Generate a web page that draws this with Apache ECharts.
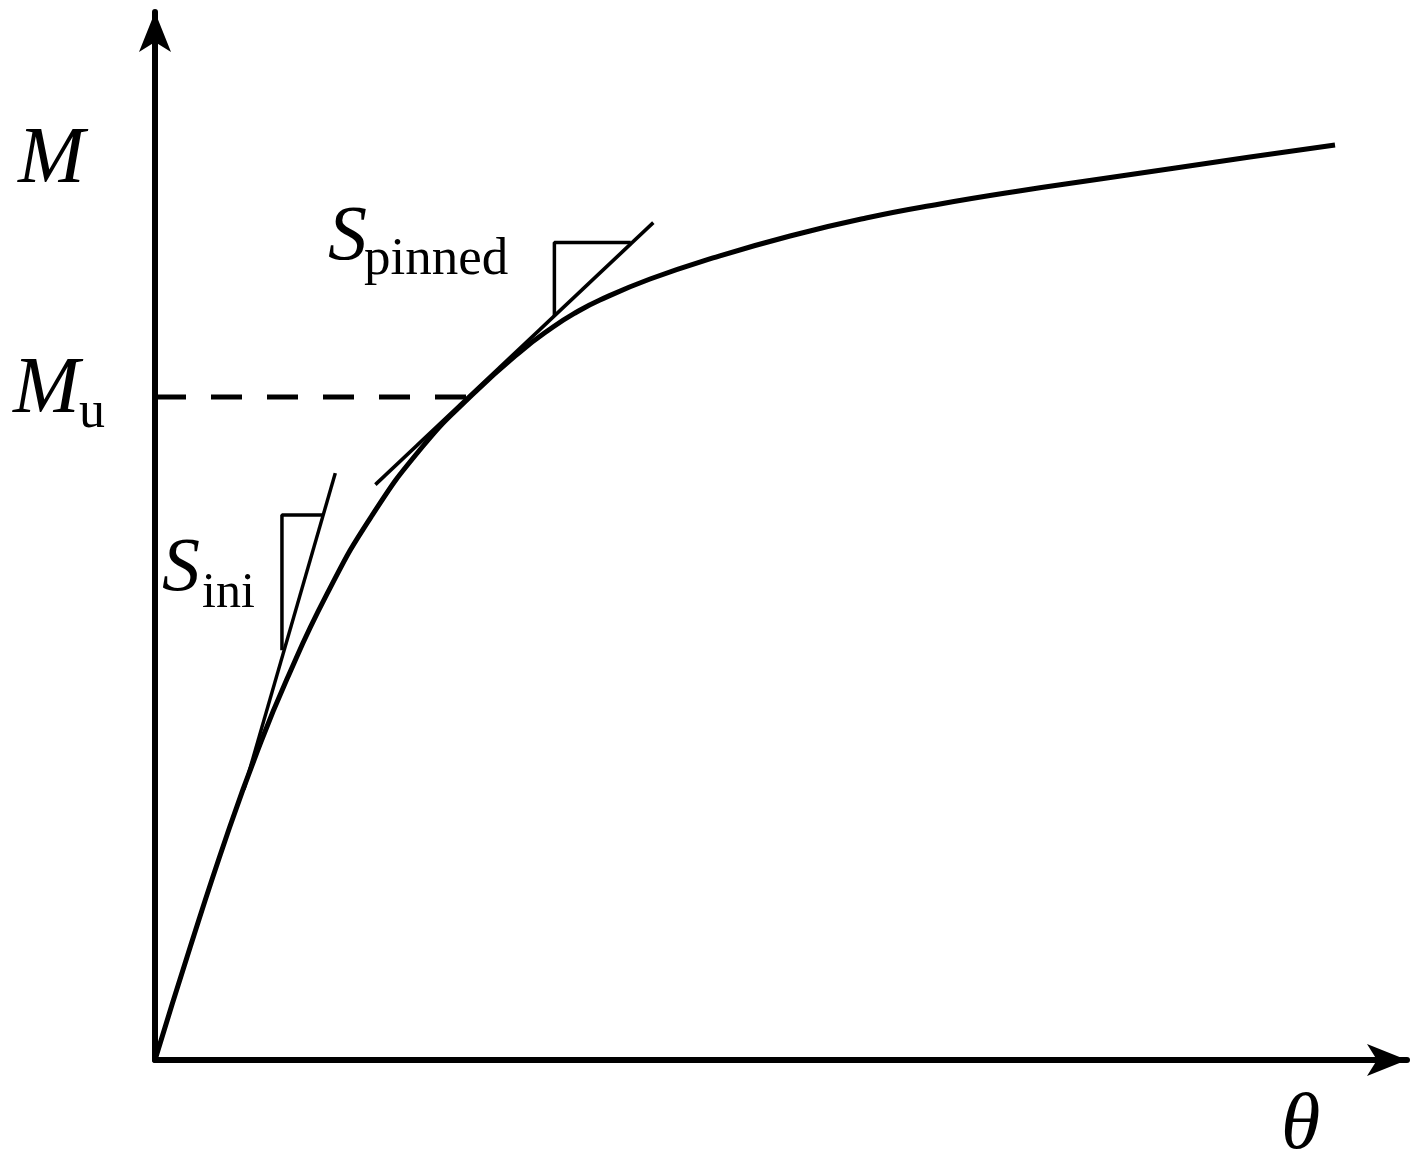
<!DOCTYPE html>
<html>
<head>
<meta charset="utf-8">
<title>M-θ curve</title>
<script src="https://cdn.jsdelivr.net/npm/echarts@6/dist/echarts.min.js"></script>
<style>
  html, body { margin: 0; padding: 0; background: #fff; }
  #chart { width: 1418px; height: 1168px; }
</style>
</head>
<body>
<div id="chart"></div>
<script>
// moment-rotation curve (both axes in 0..100 units)
const thetaCurve = [0, 2.8, 5.75, 8.15, 10.54, 13.74, 17.25, 21.41, 25.32, 29.15, 31.79, 33.55, 35.54, 39.54, 44.57, 50.72, 56.79, 62.7, 69.01, 75.48, 81.23, 87.46, 94.25];
const momentCurve = [0, 10.73, 21.47, 29.39, 36.35, 44.47, 51.81, 58.59, 63.45, 67.56, 69.94, 71.28, 72.52, 74.52, 76.53, 78.63, 80.34, 81.68, 82.92, 84.06, 85.07, 86.16, 87.31];

// M_u level and where it meets the curve
const momentU = 63.26;
const thetaU = 25.16;

// initial stiffness tangent and its slope triangle
const iniTangentTheta = [7.1, 14.4];
const iniTangentMoment = [25.8, 56.0];
const iniTriangleTheta = [10.14, 10.14, 13.42];
const iniTriangleMoment = [39.1, 52.0, 52.0];

// pinned stiffness tangent and its slope triangle
const pinTangentTheta = [17.6, 39.8];
const pinTangentMoment = [54.9, 79.9];
const pinTriangleTheta = [31.9, 31.9, 38.0];
const pinTriangleMoment = [71.0, 78.0, 78.0];

const zip = (xs, ys) => xs.map((x, i) => [x, ys[i]]);

const chart = echarts.init(document.getElementById('chart'));

const serif = '"Liberation Serif", "Times New Roman", serif';
const axisCommon = {
  type: 'value',
  min: 0,
  max: 100,
  axisLine: {
    show: true,
    symbol: ['none', 'arrow'],
    symbolSize: [24, 40],
    lineStyle: { color: '#000', width: 6 }
  },
  axisTick: { show: false },
  axisLabel: { show: false },
  splitLine: { show: false }
};

// thin black line helper
function thinLine(data, width) {
  return {
    type: 'line',
    data: data,
    symbol: 'none',
    silent: true,
    lineStyle: { color: '#000', width: width }
  };
}

const option = {
  animation: false,
  backgroundColor: '#fff',
  grid: { left: 155, right: 11, top: 12, bottom: 108 },
  xAxis: axisCommon,
  yAxis: axisCommon,
  series: [
    {
      type: 'line',
      data: zip(thetaCurve, momentCurve),
      smooth: 0.5,
      symbol: 'none',
      silent: true,
      lineStyle: { color: '#000', width: 5 }
    },
    {
      type: 'line',
      data: [[0, momentU], [thetaU, momentU]],
      symbol: 'none',
      silent: true,
      lineStyle: { color: '#000', width: 5, type: [31, 25] }
    },
    thinLine(zip(iniTangentTheta, iniTangentMoment), 3.5),
    thinLine(zip(iniTriangleTheta, iniTriangleMoment), 3.5),
    thinLine(zip(pinTangentTheta, pinTangentMoment), 3.5),
    thinLine(zip(pinTriangleTheta, pinTriangleMoment), 3.5)
  ],
  graphic: [
    // labels
    { type: 'text', x: 18, y: 161, style: { text: 'M', font: 'italic 80px ' + serif, fill: '#000', verticalAlign: 'middle' } },
    { type: 'text', x: 13, y: 391, style: { text: 'M', font: 'italic 80px ' + serif, fill: '#000', verticalAlign: 'middle' } },
    { type: 'text', x: 79, y: 413, style: { text: 'u', font: '52px ' + serif, fill: '#000', verticalAlign: 'middle' } },
    { type: 'text', x: 328, y: 238, style: { text: 'S', font: 'italic 78px ' + serif, fill: '#000', verticalAlign: 'middle' } },
    { type: 'text', x: 364, y: 260, style: { text: 'pinned', font: '53px ' + serif, fill: '#000', verticalAlign: 'middle' } },
    { type: 'text', x: 162, y: 570, style: { text: 'S', font: 'italic 76px ' + serif, fill: '#000', verticalAlign: 'middle' } },
    { type: 'text', x: 202, y: 594, style: { text: 'ini', font: '50px ' + serif, fill: '#000', verticalAlign: 'middle' } },
    { type: 'text', x: 1281, y: 1127, style: { text: 'θ', font: 'italic 80px ' + serif, fill: '#000', verticalAlign: 'middle' } }
  ]
};

chart.setOption(option);
</script>
</body>
</html>
